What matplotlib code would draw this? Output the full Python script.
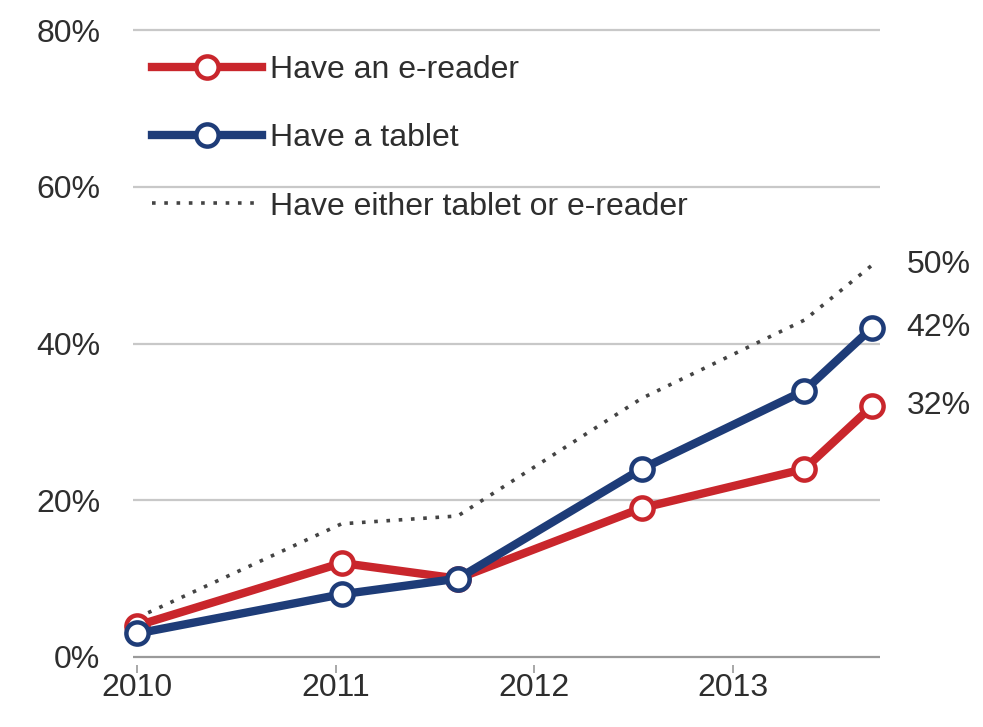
import matplotlib
matplotlib.use("Agg")
import matplotlib.pyplot as plt

# Survey dates as decimal years
dates = [2010.00, 2011.03, 2011.615, 2012.54, 2013.36, 2013.70]

# Shares of adults (%)
ereader = [4, 12, 10, 19, 24, 32]
tablet = [3, 8, 10, 24, 34, 42]
either = [5, 17, 18, 33, 43, 50]

year_ticks = [2010, 2011, 2012, 2013]
pct_ticks = [0, 20, 40, 60, 80]

RED = "#c9262c"
BLUE = "#1e3c78"
TEXT = "#2e2e2e"

plt.rcParams["font.family"] = ["Liberation Sans", "DejaVu Sans"]

fig = plt.figure(figsize=(9.83, 7.27), dpi=100)
ax = fig.add_axes([0.122, 0.0853, 0.778, 0.887])

# Gridlines and the zero line
for v in pct_ticks[1:]:
    ax.hlines(v, 2009.98, 2013.74, color="#c8c8c8", linewidth=1.6, zorder=0)
ax.hlines(0, 2009.98, 2013.74, color="#9a9a9a", linewidth=1.6, zorder=0)

ax.plot(dates, either, color="#444444", linestyle=(0, (1, 2.4)), linewidth=2.6,
        label="Have either tablet or e-reader", zorder=2)
ax.plot(dates, ereader, color=RED, linewidth=6, marker="o", markersize=16,
        markerfacecolor="white", markeredgecolor=RED, markeredgewidth=3.2,
        label="Have an e-reader", zorder=3)
ax.plot(dates, tablet, color=BLUE, linewidth=6, marker="o", markersize=16,
        markerfacecolor="white", markeredgecolor=BLUE, markeredgewidth=3.2,
        label="Have a tablet", zorder=4)

# End-of-line value labels
for series in (either, tablet, ereader):
    ax.annotate(f"{series[-1]}%", xy=(dates[-1], series[-1]), xytext=(25, 0),
                textcoords="offset points", va="center", ha="left",
                fontsize=23, color=TEXT, annotation_clip=False)

ax.set_xlim(2009.914, 2013.764)
ax.set_ylim(-1.02, 81.28)
ax.set_xticks(year_ticks)
ax.set_xticklabels([str(y) for y in year_ticks])
ax.set_yticks(pct_ticks)
ax.set_yticklabels([f"{v}%" for v in pct_ticks])
ax.tick_params(axis="y", length=0, pad=14, labelsize=23, labelcolor=TEXT)
ax.tick_params(axis="x", length=6, width=1.2, color="#9a9a9a", pad=0,
               labelsize=23, labelcolor=TEXT)
for s in ("top", "right", "left", "bottom"):
    ax.spines[s].set_visible(False)

handles, labels = ax.get_legend_handles_labels()
order = [1, 2, 0]
leg = ax.legend([handles[i] for i in order], [labels[i] for i in order],
                loc="upper left", bbox_to_anchor=(0.025, 0.966), frameon=False,
                fontsize=23, handlelength=3.45, handletextpad=0.25,
                labelspacing=1.2, numpoints=1, borderaxespad=0)
for t in leg.get_texts():
    t.set_color(TEXT)

fig.savefig("out.png", dpi=100)
